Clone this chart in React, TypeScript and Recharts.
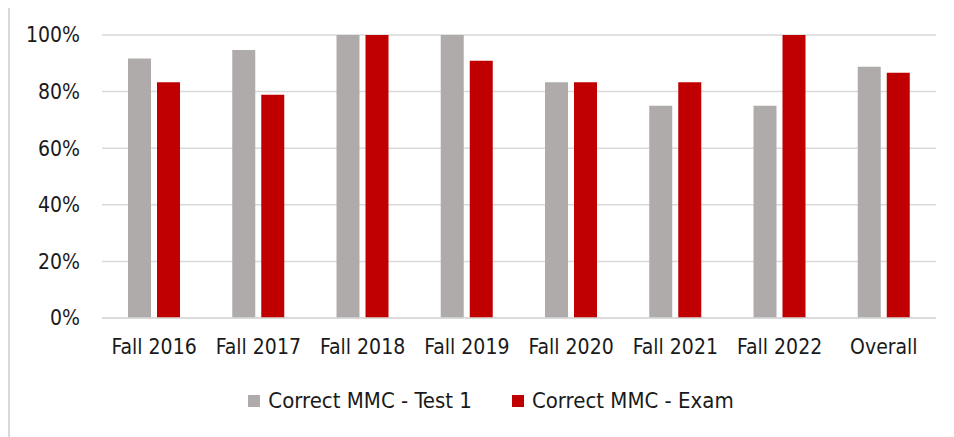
import { BarChart, Bar, XAxis, YAxis, CartesianGrid, Legend } from "recharts";

const terms = ["Fall 2016", "Fall 2017", "Fall 2018", "Fall 2019", "Fall 2020", "Fall 2021", "Fall 2022", "Overall"];
const test1 = [91.7, 94.7, 100, 100, 83.3, 75, 75, 88.8];
const exam = [83.3, 78.9, 100, 90.9, 83.3, 83.3, 100, 86.7];
const yTicks = [0, 20, 40, 60, 80, 100];

const seriesNames = ["Correct MMC - Test 1", "Correct MMC - Exam"];
const seriesColors = ["#AFABAB", "#C00000"];

const FONT = "'DejaVu Sans Condensed', sans-serif";
const TEXT = "#1a1a1a";

// legend in series order (recharts 3 sorts it by name otherwise)
function LegendRow() {
  return (
    <div
      style={{
        display: "flex",
        justifyContent: "center",
        gap: 40,
        paddingLeft: 36,
        fontSize: 22,
        color: TEXT,
        fontFamily: FONT,
      }}
    >
      {seriesNames.map((n, i) => (
        <div key={n} style={{ display: "flex", alignItems: "center" }}>
          <span style={{ width: 12, height: 12, background: seriesColors[i], marginRight: 8, display: "inline-block" }} />
          <span>{n}</span>
        </div>
      ))}
    </div>
  );
}

export default function App() {
  const data = terms.map((t, i) => ({ term: t, test1: test1[i], exam: exam[i] }));

  return (
    <div
      style={{
        width: 944,
        height: 434,
        marginTop: -3,
        border: "2px solid #d9d9d9",
        borderBottom: "none",
        borderRight: "none",
        background: "#fff",
        fontFamily: FONT,
      }}
    >
      <BarChart
        width={944}
        height={430}
        data={data}
        barSize={23}
        barGap={6}
        margin={{ top: 28, right: 18, left: 0, bottom: 24 }}
      >
        <CartesianGrid vertical={false} stroke="#d9d9d9" strokeWidth={1.5} />
        <XAxis
          dataKey="term"
          height={70}
          tickLine={false}
          axisLine={{ stroke: "#d9d9d9", strokeWidth: 1.5 }}
          tickMargin={15}
          tick={{ fontSize: 21, fill: TEXT, fontFamily: FONT }}
          interval={0}
        />
        <YAxis
          width={92}
          domain={[0, 100]}
          ticks={yTicks}
          tickFormatter={(v) => `${v}%`}
          tickLine={false}
          axisLine={false}
          tickMargin={16}
          tick={{ fontSize: 21, fill: TEXT, fontFamily: FONT }}
        />
        <Legend verticalAlign="bottom" content={() => <LegendRow />} />
        <Bar dataKey="test1" name={seriesNames[0]} fill={seriesColors[0]} isAnimationActive={false} />
        <Bar dataKey="exam" name={seriesNames[1]} fill={seriesColors[1]} isAnimationActive={false} />
      </BarChart>
    </div>
  );
}
